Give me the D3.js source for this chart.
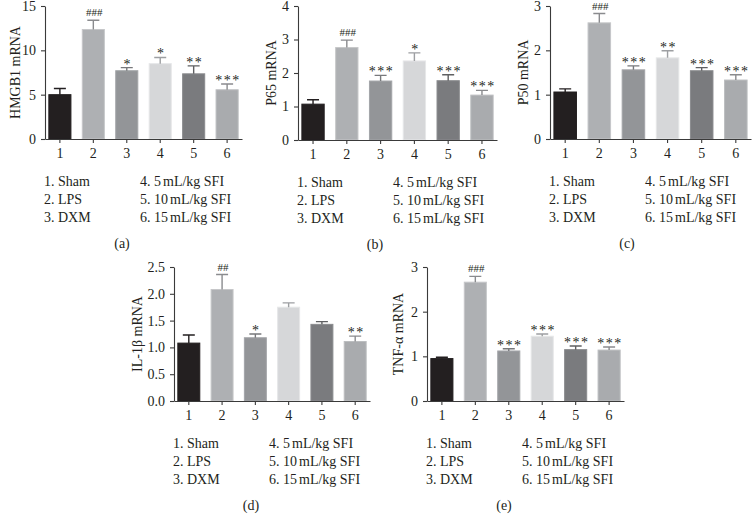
<!DOCTYPE html>
<html>
	<head>
		<meta charset="utf-8">
		<script type="text/javascript" src="https://cdn.jsdelivr.net/npm/d3@7"></script>
		<style>
			body { margin: 0; background: #fff; }
			text { font-family: "Liberation Serif", "DejaVu Serif", serif; fill: #231f20; }
		</style>
	</head>
	<body>
		<script type="text/javascript">

			// groups
			var groups = ['1', '2', '3', '4', '5', '6'];
			var legendLeft = ['1. Sham', '2. LPS', '3. DXM'];
			var legendRight = ['4. 5mL/kg SFI', '5. 10mL/kg SFI', '6. 15mL/kg SFI'];

			// means and upper error values
			var hmgb1 = [5.0, 12.35, 7.7, 8.5, 7.35, 5.55];
			var hmgb1Err = [5.7, 13.4, 8.05, 9.2, 8.25, 6.2];
			var hmgb1Sig = ['', '###', '*', '*', '**', '***'];

			var p65 = [1.07, 2.76, 1.76, 2.36, 1.77, 1.34];
			var p65Err = [1.2, 2.98, 1.93, 2.6, 1.95, 1.48];
			var p65Sig = ['', '###', '***', '*', '***', '***'];

			var p50 = [1.06, 2.62, 1.56, 1.83, 1.54, 1.33];
			var p50Err = [1.13, 2.83, 1.65, 1.99, 1.61, 1.45];
			var p50Sig = ['', '###', '***', '**', '***', '***'];

			var il1b = [1.08, 2.08, 1.18, 1.75, 1.43, 1.11];
			var il1bErr = [1.23, 2.36, 1.25, 1.83, 1.48, 1.21];
			var il1bSig = ['', '##', '*', '', '', '**'];

			var tnfa = [0.95, 2.66, 1.12, 1.45, 1.15, 1.14];
			var tnfaErr = [0.98, 2.79, 1.17, 1.5, 1.23, 1.21];
			var tnfaSig = ['', '###', '***', '***', '***', '***'];

			var barFill = ['#231f20', '#aeb0b3', '#939598', '#d6d7d9', '#7a7b7e', '#a9abae'];
			var barEdge = ['#231f20', '#c6c7c9', '#a3a5a8', '#e6e7e8', '#8a8b8e', '#bcbec0'];
			var errColor = ['#231f20', '#8a8b8e', '#77787b', '#9d9fa2', '#5f6062', '#8a8b8e'];

			var svg = d3.select('body').append('svg')
				.attr('width', 755)
				.attr('height', 522);

			function panel(p){
				var g = svg.append('g');

				var x = d3.scaleBand()
					.domain(groups)
					.range([p.left, p.right])
					.paddingInner(0.31)
					.paddingOuter(0.1);

				var y = d3.scaleLinear()
					.domain([0, p.max])
					.range([p.bottom, p.top]);

				// bars
				g.selectAll('rect.bar').data(p.values).enter().append('rect')
					.attr('class', 'bar')
					.attr('x', function(d, i){ return x(groups[i]) + 0.5; })
					.attr('y', function(d){ return y(d); })
					.attr('width', x.bandwidth() - 1)
					.attr('height', function(d){ return p.bottom - y(d); })
					.attr('fill', function(d, i){ return barFill[i]; })
					.attr('stroke', function(d, i){ return barEdge[i]; })
					.attr('stroke-width', 1);

				// error bars
				var cx = function(i){ return x(groups[i]) + x.bandwidth() / 2; };
				g.selectAll('path.err').data(p.errs).enter().append('path')
					.attr('class', 'err')
					.attr('d', function(d, i){
						var c = cx(i);
						return 'M' + c + ',' + y(p.values[i]) + 'V' + y(d) +
							'M' + (c - 6) + ',' + y(d) + 'H' + (c + 6);
					})
					.attr('fill', 'none')
					.attr('stroke', function(d, i){ return errColor[i]; })
					.attr('stroke-width', 1.4);

				// significance marks
				g.selectAll('text.sig').data(p.sig).enter().append('text')
					.attr('class', 'sig')
					.attr('x', function(d, i){ return cx(i) + 1; })
					.attr('y', function(d, i){
						return y(p.errs[i]) - (d.charAt(0) === '#' ? 4 : -1);
					})
					.attr('text-anchor', 'middle')
					.style('font-size', function(d){ return d.charAt(0) === '#' ? '11px' : '14px'; })
					.style('letter-spacing', function(d){ return d.charAt(0) === '#' ? '0px' : '1.5px'; })
					.text(function(d){ return d; });

				// axes
				var ya = g.append('g')
					.attr('transform', 'translate(' + p.left + ',0)')
					.call(d3.axisLeft(y).tickValues(p.ticks).tickFormat(p.fmt).tickSize(4).tickSizeOuter(0).tickPadding(5));
				var xa = g.append('g')
					.attr('transform', 'translate(0,' + p.bottom + ')')
					.call(d3.axisBottom(x).tickSize(4).tickSizeOuter(0).tickPadding(5));

				[ya, xa].forEach(function(a){
					a.selectAll('path, line').attr('stroke', '#3a3a3a').attr('stroke-width', 1.1);
					a.selectAll('text').style('font-size', '14px').attr('fill', '#231f20')
						.style('font-family', '"Liberation Serif", serif');
				});

				// y title
				g.append('text')
					.attr('transform', 'translate(' + p.titleX + ',' + ((p.top + p.bottom) / 2) + ') rotate(-90)')
					.attr('text-anchor', 'middle')
					.attr('dy', '0.35em')
					.style('font-size', '14px')
					.text(p.title);

				// legend
				var ly = p.bottom + 47;
				legendLeft.forEach(function(t, i){
					g.append('text').attr('x', p.left - 1).attr('y', ly + i * 18)
						.style('font-size', '14px').text(t);
				});
				legendRight.forEach(function(t, i){
					var tx = g.append('text').attr('x', p.left + 95).attr('y', ly + i * 18)
						.style('font-size', '14px');
					var parts = t.split('mL');
					tx.append('tspan').text(parts[0]);
					tx.append('tspan').attr('dx', 2).text('mL' + parts[1]);
				});

				// caption
				g.append('text')
					.attr('x', p.left + 77)
					.attr('y', p.bottom + 109)
					.attr('text-anchor', 'middle')
					.style('font-size', '14px')
					.text(p.caption);
			}

			var f0 = d3.format('d'), f1 = d3.format('.1f');

			panel({ left: 45, right: 242, top: 6, bottom: 139, max: 15, ticks: [0, 5, 10, 15], fmt: f0,
				values: hmgb1, errs: hmgb1Err, sig: hmgb1Sig, title: 'HMGB1 mRNA', titleX: 15, caption: '(a)' });
			panel({ left: 298, right: 497, top: 6, bottom: 140, max: 4, ticks: [0, 1, 2, 3, 4], fmt: f0,
				values: p65, errs: p65Err, sig: p65Sig, title: 'P65 mRNA', titleX: 271, caption: '(b)' });
			panel({ left: 550, right: 751, top: 6, bottom: 139, max: 3, ticks: [0, 1, 2, 3], fmt: f0,
				values: p50, errs: p50Err, sig: p50Sig, title: 'P50 mRNA', titleX: 523, caption: '(c)' });
			panel({ left: 174, right: 370, top: 267, bottom: 401, max: 2.5, ticks: [0, 0.5, 1, 1.5, 2, 2.5], fmt: f1,
				values: il1b, errs: il1bErr, sig: il1bSig, title: 'IL-1\u03b2 mRNA', titleX: 137, caption: '(d)' });
			panel({ left: 427, right: 624, top: 267, bottom: 401, max: 3, ticks: [0, 1, 2, 3], fmt: f0,
				values: tnfa, errs: tnfaErr, sig: tnfaSig, title: 'TNF-\u03b1 mRNA', titleX: 398, caption: '(e)' });

		</script>
	</body>
</html>
